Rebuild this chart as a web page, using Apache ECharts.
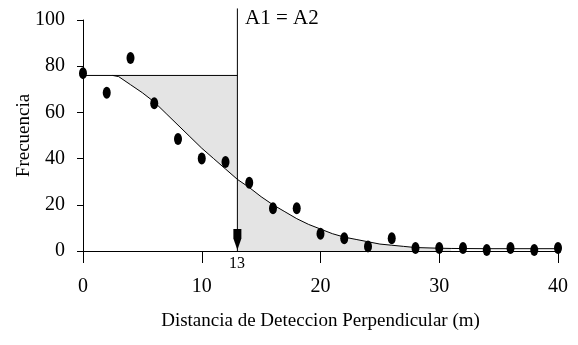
<!DOCTYPE html>
<html>
<head>
<meta charset="utf-8">
<script src="https://cdn.jsdelivr.net/npm/echarts@6/dist/echarts.min.js"></script>
<style>
  html, body { margin: 0; padding: 0; background: #fff; }
  #chart { width: 578px; height: 345px; }
</style>
</head>
<body>
<div id="chart"></div>
<script>
// observed frequencies by detection distance
const distX = [0, 2, 4, 6, 8, 10, 12, 14, 16, 18, 20, 22, 24, 26, 28, 30, 32, 34, 36, 38, 40];
const freq = [77, 68.5, 83.5, 64, 48.5, 40, 38.5, 29.5, 18.5, 18.5, 7.5, 5.5, 2, 5.5, 1.3, 1.3, 1.3, 0.4, 1.3, 0.4, 1.3];

// fitted detection curve
const curveX = [2.5, 3, 4, 5, 6, 7, 8, 9, 10, 11, 12, 13, 14, 15, 16, 17, 18, 19, 20, 21, 22, 23, 24, 25, 26, 27, 28, 30, 31, 34, 40];
const curveY = [76, 75.5, 72, 68.5, 64.5, 59.5, 54.5, 49.5, 44.5, 40, 35.5, 31, 27.5, 23.5, 20, 17, 14, 11.5, 9.5, 7.5, 6, 5, 4, 3, 2.5, 2, 1.5, 1.2, 1.1, 1, 1];

// reference lines
const plateau = 76;
const cutX = 13;
const cutTop = 105;

const serif = '"Liberation Serif", "DejaVu Serif", serif';
const fillGray = '#e4e4e4';

const curve = curveX.map((x, i) => [x, curveY[i]]);
const points = distX.map((x, i) => [x, freq[i]]);

const chart = echarts.init(document.getElementById('chart'));

const option = {
  backgroundColor: '#fff',
  animation: false,
  grid: { left: 83, right: 20, top: 20, bottom: 94, outerBoundsMode: 'none' },
  xAxis: {
    type: 'value',
    min: 0,
    max: 40,
    interval: 10,
    name: 'Distancia de Deteccion Perpendicular (m)',
    nameLocation: 'middle',
    nameGap: 61,
    nameTextStyle: { fontFamily: serif, fontSize: 19, color: '#000' },
    axisLine: { onZero: false, lineStyle: { color: '#000', width: 1 } },
    axisTick: { show: true, length: 12, lineStyle: { color: '#000' } },
    axisLabel: { margin: 26, fontFamily: serif, fontSize: 20, color: '#000' },
    splitLine: { show: false }
  },
  yAxis: {
    type: 'value',
    min: 0,
    max: 100,
    interval: 20,
    name: 'Frecuencia',
    nameLocation: 'middle',
    nameGap: 49,
    nameMoveOverlap: false,
    nameTextStyle: { fontFamily: serif, fontSize: 19, color: '#000' },
    axisLine: { show: true, lineStyle: { color: '#000', width: 1 } },
    axisTick: { show: true, length: 6, lineStyle: { color: '#000' } },
    axisLabel: { margin: 18, fontFamily: serif, fontSize: 20, color: '#000', padding: [4, 0, 0, 0] },
    splitLine: { show: false }
  },
  series: [
    {
      // A1: between plateau and curve, left of the cut
      type: 'custom',
      z: 1,
      silent: true,
      data: [[cutX, plateau]],
      renderItem: function (params, api) {
        const left = curve.filter(p => p[0] <= cutX);
        const pts = [api.coord([left[0][0], plateau]), api.coord([cutX, plateau])];
        for (let i = left.length - 1; i >= 0; i--) pts.push(api.coord(left[i]));
        return { type: 'polygon', shape: { points: pts }, style: { fill: fillGray } };
      }
    },
    {
      // A2: under curve, right of the cut
      type: 'custom',
      z: 1,
      silent: true,
      data: [[cutX, 0]],
      renderItem: function (params, api) {
        const right = curve.filter(p => p[0] >= cutX && p[0] <= 31);
        const pts = [api.coord([cutX, 0])];
        right.forEach(p => pts.push(api.coord(p)));
        pts.push(api.coord([right[right.length - 1][0], 0]));
        return { type: 'polygon', shape: { points: pts }, style: { fill: fillGray } };
      }
    },
    {
      type: 'line',
      z: 2,
      clip: false,
      symbol: 'none',
      silent: true,
      lineStyle: { color: '#000', width: 1 },
      data: [[0, plateau], [cutX, plateau]]
    },
    {
      type: 'line',
      z: 2,
      clip: false,
      symbol: 'none',
      silent: true,
      lineStyle: { color: '#000', width: 1 },
      data: [[cutX, 0], [cutX, cutTop]]
    },
    {
      type: 'line',
      z: 3,
      symbol: 'none',
      silent: true,
      lineStyle: { color: '#000', width: 1 },
      data: curve
    },
    {
      type: 'scatter',
      z: 4,
      symbol: 'circle',
      symbolSize: [8, 12],
      itemStyle: { color: '#000', opacity: 1 },
      data: points
    },
    {
      // arrow marking the cut distance
      type: 'scatter',
      z: 4,
      symbol: 'path://M0,0 L8,0 L8,10 L4,22 L0,10 Z',
      symbolSize: [8, 21],
      itemStyle: { color: '#000', opacity: 1 },
      data: [[cutX, 5]]
    }
  ],
  graphic: [
    { type: 'text', left: 245, top: 8, style: { text: 'A1 = A2', font: '21px ' + serif, fill: '#000' } },
    { type: 'text', left: 200, top: 84, style: { text: 'A1', font: '21px ' + serif, fill: '#000' } },
    { type: 'text', left: 252, top: 219, style: { text: 'A2', font: '21px ' + serif, fill: '#000' } },
    { type: 'text', left: 229, top: 256, style: { text: '13', font: '16px ' + serif, fill: '#000' } }
  ]
};

chart.setOption(option);
</script>
</body>
</html>
